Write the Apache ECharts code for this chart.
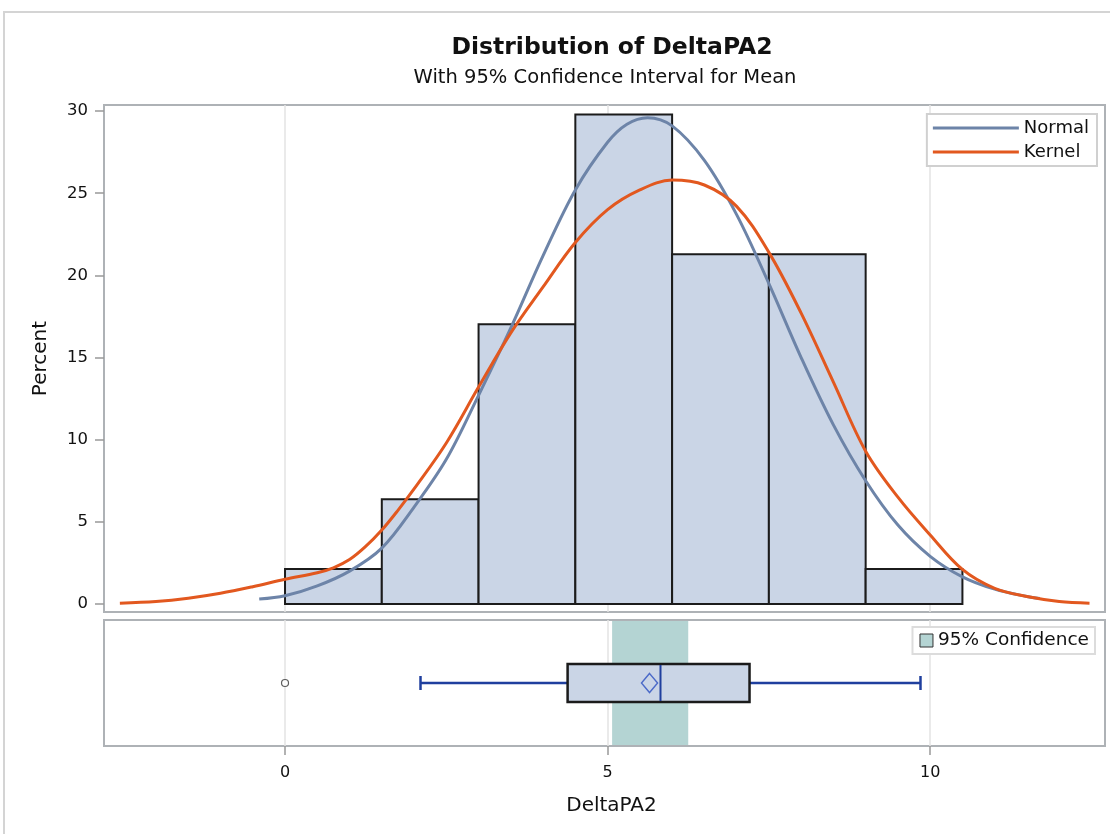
<!DOCTYPE html>
<html lang="en">
<head>
<meta charset="UTF-8">
<title>Distribution of DeltaPA2</title>
<script src="https://cdn.jsdelivr.net/npm/echarts@6/dist/echarts.min.js"></script>
<style>
    html, body { margin: 0; padding: 0; background: #fff; }
    #main { width: 1110px; height: 834px; }
</style>
</head>
<body>
<div id="main"></div>
<script>
    // histogram bins of DeltaPA2 (percent of obs)
    var binStart = [0, 1.5, 3, 4.5, 6, 7.5, 9];
    var binEnd = [1.5, 3, 4.5, 6, 7.5, 9, 10.5];
    var binPct = [2.13, 6.38, 17.02, 29.79, 21.28, 21.28, 2.13];

    // fitted normal curve
    var normalX = [-0.4, 0, 0.5, 1, 1.5, 2, 2.5, 3, 3.5, 4, 4.5, 5, 5.3, 5.62, 6, 6.5, 7, 7.5, 8, 8.5, 9, 9.5, 10, 10.5, 11, 11.5, 11.7];
    var normalY = [0.3, 0.5, 1.1, 2.0, 3.4, 5.9, 8.8, 12.7, 16.8, 21.2, 25.2, 28.1, 29.2, 29.6, 29.1, 27.0, 23.7, 19.5, 15.0, 10.9, 7.5, 4.8, 2.9, 1.65, 0.9, 0.45, 0.33];

    // kernel density curve
    var kernelX = [-2.56, -2, -1.5, -1, -0.5, 0, 0.5, 0.75, 1, 1.25, 1.5, 1.75, 2, 2.5, 3, 3.5, 4, 4.5, 5, 5.5, 6, 6.5, 7, 7.5, 8, 8.5, 9, 9.5, 10, 10.5, 11, 11.5, 12, 12.47];
    var kernelY = [0.05, 0.15, 0.35, 0.65, 1.05, 1.5, 1.9, 2.2, 2.7, 3.5, 4.5, 5.7, 7.0, 9.8, 13.2, 16.5, 19.3, 22.0, 24.0, 25.2, 25.8, 25.5, 24.2, 21.4, 17.7, 13.5, 9.3, 6.5, 4.2, 2.1, 0.95, 0.45, 0.15, 0.05];

    // box plot: low whisker, Q1, median, Q3, high whisker
    var boxStats = [2.1, 4.38, 5.82, 7.2, 9.85];
    var meanVal = 5.65;
    var outliers = [0];
    var ciMean = [5.07, 6.25];

    // tick labels
    var xTicks = [0, 5, 10];
    var yTicks = [0, 5, 10, 15, 20, 25, 30];

    var xMin = -2.806, xMax = 12.71;
    var FONT = 'DejaVu Sans';

    var myChart = echarts.init(document.getElementById('main'));

    var histData = [];
    for (var i = 0; i < binPct.length; i++) {
        histData.push([binStart[i], binEnd[i], binPct[i]]);
    }
    var normalData = normalX.map(function (x, i) { return [x, normalY[i]]; });
    var kernelData = kernelX.map(function (x, i) { return [x, kernelY[i]]; });

    var gridLine = { show: true, lineStyle: { color: '#e3e3e3', width: 1.5 } };

    myChart.setOption({
        backgroundColor: '#fff',
        animation: false,
        title: [{
            text: 'Distribution of DeltaPA2',
            left: 607,
            top: 31,
            textAlign: 'center',
            textStyle: { fontFamily: FONT, fontSize: 23.5, fontWeight: 'bold', color: '#111' }
        }, {
            text: 'With 95% Confidence Interval for Mean',
            left: 600,
            top: 63,
            textAlign: 'center',
            textStyle: { fontFamily: FONT, fontSize: 19.5, fontWeight: 'normal', color: '#111' }
        }],
        graphic: [{
            type: 'rect',
            shape: { x: 4, y: 12, width: 1200, height: 900 },
            style: { fill: 'none', stroke: '#d4d4d4', lineWidth: 2 },
            silent: true
        }],
        legend: [{
            data: ['Normal', 'Kernel'],
            orient: 'vertical',
            right: 13,
            top: 114,
            icon: 'rect',
            itemWidth: 86,
            itemHeight: 3,
            itemGap: 6,
            padding: [5, 8, 5, 6],
            borderColor: '#d0d0d0',
            borderWidth: 2,
            backgroundColor: '#fff',
            textStyle: { fontFamily: FONT, fontSize: 18, color: '#111' }
        }, {
            data: ['95% Confidence'],
            right: 15,
            top: 627,
            icon: 'rect',
            itemWidth: 13,
            itemHeight: 13,
            itemGap: 6,
            itemStyle: { borderColor: '#333', borderWidth: 1 },
            padding: [4, 6, 4, 7],
            borderColor: '#dcdcdc',
            borderWidth: 2,
            backgroundColor: '#fff',
            textStyle: { fontFamily: FONT, fontSize: 18.5, color: '#111' }
        }],
        grid: [
            { left: 104, top: 105, width: 1001, height: 507, show: true, borderColor: '#aeb2b6', borderWidth: 2, backgroundColor: 'transparent' },
            { left: 104, top: 620, width: 1001, height: 126, show: true, borderColor: '#aeb2b6', borderWidth: 2, backgroundColor: 'transparent' }
        ],
        xAxis: [{
            gridIndex: 0,
            type: 'value',
            min: xMin,
            max: xMax,
            axisLine: { show: false, onZero: false },
            axisTick: { show: false, customValues: xTicks },
            axisLabel: { show: false, customValues: xTicks },
            splitLine: gridLine
        }, {
            gridIndex: 1,
            type: 'value',
            min: xMin,
            max: xMax,
            name: 'DeltaPA2',
            nameLocation: 'middle',
            nameGap: 50,
            nameTextStyle: { fontFamily: FONT, fontSize: 20, color: '#111', padding: [0, 0, 0, 14] },
            axisLine: { show: false, onZero: false },
            axisTick: { show: true, customValues: xTicks, length: 9, lineStyle: { color: '#999', width: 1.5 } },
            axisLabel: { customValues: xTicks, margin: 19, fontFamily: FONT, fontSize: 16, color: '#111' },
            splitLine: gridLine
        }],
        yAxis: [{
            gridIndex: 0,
            type: 'value',
            min: -0.49,
            max: 30.37,
            name: 'Percent',
            nameLocation: 'middle',
            nameGap: 53,
            nameTextStyle: { fontFamily: FONT, fontSize: 20, color: '#111' },
            axisLine: { show: false, onZero: false },
            axisTick: { show: true, customValues: yTicks, length: 9, lineStyle: { color: '#999', width: 1.5 } },
            axisLabel: { customValues: yTicks, margin: 16, fontFamily: FONT, fontSize: 16.5, color: '#111' },
            splitLine: { show: false }
        }, {
            gridIndex: 1,
            type: 'value',
            min: 0,
            max: 1,
            show: false,
            splitLine: { show: false }
        }],
        series: [{
            name: 'Histogram',
            type: 'custom',
            xAxisIndex: 0,
            yAxisIndex: 0,
            z: 2,
            data: histData,
            renderItem: function (params, api) {
                var p0 = api.coord([api.value(0), api.value(2)]);
                var p1 = api.coord([api.value(1), 0]);
                return {
                    type: 'rect',
                    shape: { x: p0[0], y: p0[1], width: p1[0] - p0[0], height: p1[1] - p0[1] },
                    style: { fill: '#cad5e6', stroke: '#1b1b1b', lineWidth: 2 }
                };
            }
        }, {
            name: 'Normal',
            type: 'line',
            xAxisIndex: 0,
            yAxisIndex: 0,
            z: 3,
            smooth: 0.35,
            showSymbol: false,
            data: normalData,
            itemStyle: { color: '#6d84a8' },
            lineStyle: { color: '#6d84a8', width: 3 }
        }, {
            name: 'Kernel',
            type: 'line',
            xAxisIndex: 0,
            yAxisIndex: 0,
            z: 4,
            smooth: 0.35,
            showSymbol: false,
            data: kernelData,
            itemStyle: { color: '#e2581f' },
            lineStyle: { color: '#e2581f', width: 3 }
        }, {
            name: '95% Confidence',
            type: 'custom',
            xAxisIndex: 1,
            yAxisIndex: 1,
            z: 1,
            itemStyle: { color: '#b4d4d3' },
            data: [ciMean],
            renderItem: function (params, api) {
                var p0 = api.coord([api.value(0), 1]);
                var p1 = api.coord([api.value(1), 0]);
                return {
                    type: 'rect',
                    shape: { x: p0[0], y: p0[1] + 1, width: p1[0] - p0[0], height: p1[1] - p0[1] - 2 },
                    style: { fill: '#b4d4d3' }
                };
            }
        }, {
            name: 'Box',
            type: 'custom',
            xAxisIndex: 1,
            yAxisIndex: 1,
            z: 3,
            data: [boxStats],
            renderItem: function (params, api) {
                var lo = api.coord([api.value(0), 0.5]);
                var q1 = api.coord([api.value(1), 0.5]);
                var md = api.coord([api.value(2), 0.5]);
                var q3 = api.coord([api.value(3), 0.5]);
                var hi = api.coord([api.value(4), 0.5]);
                var cy = lo[1];
                var h = 19, cap = 7;
                var blue = { stroke: '#1f3f9e', lineWidth: 2.5 };
                return {
                    type: 'group',
                    children: [
                        { type: 'line', shape: { x1: lo[0], y1: cy, x2: q1[0], y2: cy }, style: blue },
                        { type: 'line', shape: { x1: q3[0], y1: cy, x2: hi[0], y2: cy }, style: blue },
                        { type: 'line', shape: { x1: lo[0], y1: cy - cap, x2: lo[0], y2: cy + cap }, style: blue },
                        { type: 'line', shape: { x1: hi[0], y1: cy - cap, x2: hi[0], y2: cy + cap }, style: blue },
                        { type: 'rect', shape: { x: q1[0], y: cy - h, width: q3[0] - q1[0], height: 2 * h },
                          style: { fill: '#cad5e6', stroke: '#1b1b1b', lineWidth: 2.5 } },
                        { type: 'line', shape: { x1: md[0], y1: cy - h + 1, x2: md[0], y2: cy + h - 1 },
                          style: { stroke: '#1f3f9e', lineWidth: 2 } }
                    ]
                };
            }
        }, {
            name: 'Mean',
            type: 'scatter',
            xAxisIndex: 1,
            yAxisIndex: 1,
            z: 5,
            symbol: 'diamond',
            symbolSize: [16, 19],
            data: [[meanVal, 0.5]],
            itemStyle: { color: 'rgba(0,0,0,0)', borderColor: '#2b4fc0', borderWidth: 1.5 }
        }, {
            name: 'Outlier',
            type: 'scatter',
            xAxisIndex: 1,
            yAxisIndex: 1,
            z: 5,
            symbol: 'circle',
            symbolSize: 7,
            data: outliers.map(function (v) { return [v, 0.5]; }),
            itemStyle: { color: '#fff', borderColor: '#333', borderWidth: 1.2 }
        }]
    });
</script>
</body>
</html>
